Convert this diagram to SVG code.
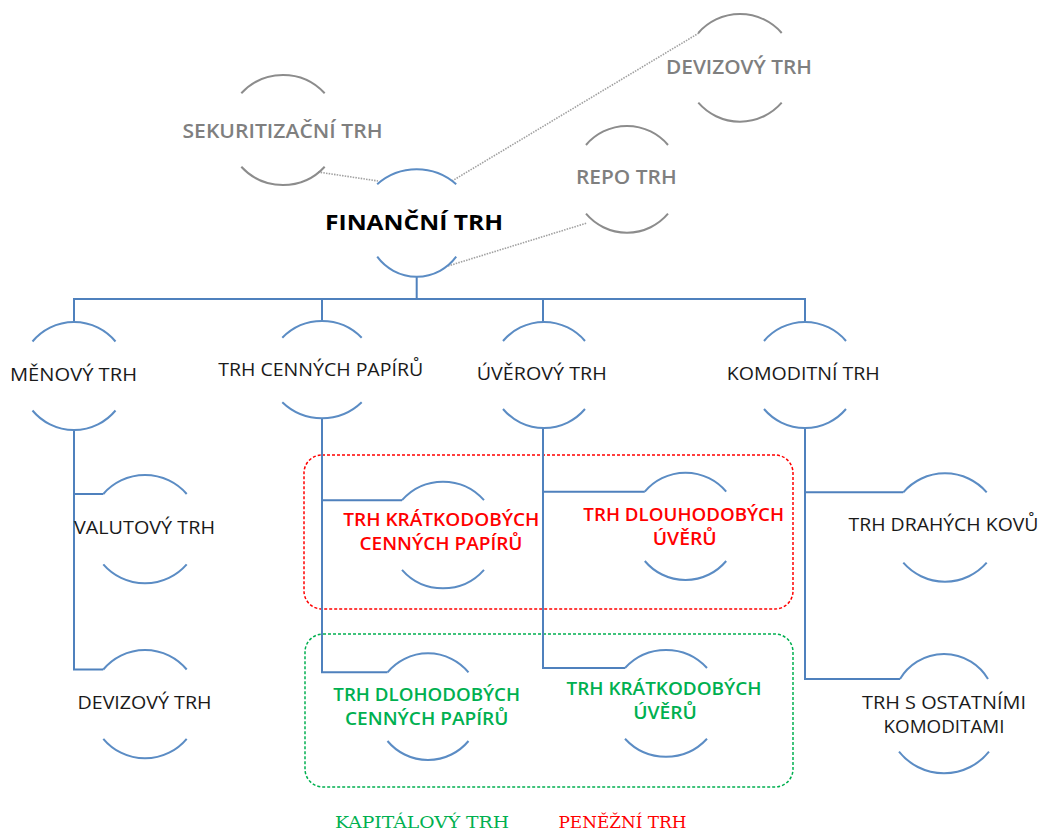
<svg xmlns="http://www.w3.org/2000/svg" width="1042" height="831" viewBox="0 0 1042 831">
<style>
.bg{fill:#ffffff}
.arc{fill:none;stroke:#5b8cc4;stroke-width:2}
.garc{fill:none;stroke:#8c8c8c;stroke-width:2}
.ln{fill:none;stroke:#4f81bd;stroke-width:2}
.dot{fill:none;stroke:#a0a0a0;stroke-width:1.6;stroke-dasharray:1.5 1.2}
.t{font-family:"Open Sans","Noto Sans",sans-serif;font-size:19px;text-anchor:middle;fill:#1a1a1a}
.two{font-size:18px}
.gray{fill:#7f7f7f;font-weight:600}
.red{fill:#ff0000;font-weight:600}
.green{fill:#00b050;font-weight:600}
.main{font-size:22px;font-weight:700;fill:#000000}
.slab{font-family:"DejaVu Serif","Liberation Serif",serif;font-size:17px;text-anchor:middle}
.box{fill:none;stroke-width:1.5;stroke-dasharray:3 2}
</style>
<rect class="bg" x="0" y="0" width="1042" height="831"/>

<g id="groups">
<rect id="penezni-box" class="box" x="304" y="455" width="489" height="154" rx="18" stroke="#ff0000"/>
<rect id="kapitalovy-box" class="box" x="305" y="634" width="488" height="153" rx="18" stroke="#00b050"/>
</g>

<g id="connectors">
<path class="dot" d="M318 172 L378 181"/>
<path class="dot" d="M452 181 L699 33"/>
<path class="dot" d="M448 266 L587 223"/>
<path class="ln" d="M416.7 276.7 V299"/>
<path class="ln" d="M74 322 V299 H805 V322"/>
<path class="ln" d="M322 299 V321"/>
<path class="ln" d="M543 299 V322"/>
<path class="ln" d="M74 430 V669.5 H103.3"/>
<path class="ln" d="M74 494 H103.3"/>
<path class="ln" d="M322 418.3 V672.3 H387.5"/>
<path class="ln" d="M322 500.2 H402"/>
<path class="ln" d="M543 428 V668 H625"/>
<path class="ln" d="M543 491.7 H644.8"/>
<path class="ln" d="M805 428 V679 H900"/>
<path class="ln" d="M805 492.3 H903.3"/>
</g>

<g id="sekuritizacni-trh">
<path class="garc" d="M241.3 93.3 A56.7 56.7 0 0 1 324.7 93.3"/>
<path class="garc" d="M241.3 166.7 A56.7 56.7 0 0 0 324.7 166.7"/>
<text class="t gray" x="282.5" y="137.5" textLength="200" lengthAdjust="spacingAndGlyphs">SEKURITIZAČNÍ TRH</text>
</g>

<g id="devizovy-trh-top">
<path class="garc" d="M698.3 33 A55.3 55.3 0 0 1 781.7 33"/>
<path class="garc" d="M698.3 102.7 A55.3 55.3 0 0 0 781.7 102.7"/>
<text class="t gray" x="739" y="74" textLength="146" lengthAdjust="spacingAndGlyphs">DEVIZOVÝ TRH</text>
</g>

<g id="repo-trh">
<path class="garc" d="M586 145 A53.7 53.7 0 0 1 668 145"/>
<path class="garc" d="M586 213.7 A53.7 53.7 0 0 0 668 213.7"/>
<text class="t gray" x="626.3" y="184.3" textLength="100.7" lengthAdjust="spacingAndGlyphs">REPO TRH</text>
</g>

<g id="financni-trh">
<path class="arc" d="M377.2 184.3 A59.5 59.5 0 0 1 456.2 184.3"/>
<path class="arc" d="M377.2 256.7 A49 49 0 0 0 456.2 256.7"/>
<text class="t main" x="414" y="230" textLength="178" lengthAdjust="spacingAndGlyphs">FINANČNÍ TRH</text>
</g>

<g id="menovy-trh">
<path class="arc" d="M32.5 341.5 A53.9 53.9 0 0 1 115.5 341.5"/>
<path class="arc" d="M32.5 410.5 A53.9 53.9 0 0 0 115.5 410.5"/>
<text class="t" x="73.5" y="380.5" textLength="127" lengthAdjust="spacingAndGlyphs">MĚNOVÝ TRH</text>
</g>

<g id="trh-cennych-papiru">
<path class="arc" d="M282.3 337.7 A55.5 55.5 0 0 1 361.7 337.7"/>
<path class="arc" d="M282.3 402.3 A57.3 57.3 0 0 0 361.7 402.3"/>
<text class="t" x="320.7" y="376" textLength="205" lengthAdjust="spacingAndGlyphs">TRH CENNÝCH PAPÍRŮ</text>
</g>

<g id="uverovy-trh">
<path class="arc" d="M503 341 A53.7 53.7 0 0 1 585 341"/>
<path class="arc" d="M503 409 A53.7 53.7 0 0 0 585 409"/>
<text class="t" x="541.7" y="380" textLength="130" lengthAdjust="spacingAndGlyphs">ÚVĚROVÝ TRH</text>
</g>

<g id="komoditni-trh">
<path class="arc" d="M764 341 A53.7 53.7 0 0 1 846 341"/>
<path class="arc" d="M764 409 A53.7 53.7 0 0 0 846 409"/>
<text class="t" x="803.3" y="380" textLength="153" lengthAdjust="spacingAndGlyphs">KOMODITNÍ TRH</text>
</g>

<g id="valutovy-trh">
<path class="arc" d="M103.3 494 A55.3 55.3 0 0 1 186.7 494"/>
<path class="arc" d="M103.3 564.3 A55.3 55.3 0 0 0 186.7 564.3"/>
<text class="t" x="144.5" y="534.3" textLength="141" lengthAdjust="spacingAndGlyphs">VALUTOVÝ TRH</text>
</g>

<g id="devizovy-trh">
<path class="arc" d="M103.3 669.5 A54.3 54.3 0 0 1 186.7 669.5"/>
<path class="arc" d="M103.3 738.8 A54.3 54.3 0 0 0 186.7 738.8"/>
<text class="t" x="144.5" y="709.3" textLength="134" lengthAdjust="spacingAndGlyphs">DEVIZOVÝ TRH</text>
</g>

<g id="trh-kratkodobych-cp">
<path class="arc" d="M402 500.2 A54.7 54.7 0 0 1 484 500.2"/>
<path class="arc" d="M402 569.8 A54.7 54.7 0 0 0 484 569.8"/>
<text class="t two red" x="441.3" y="526" textLength="196" lengthAdjust="spacingAndGlyphs">TRH KRÁTKODOBÝCH</text>
<text class="t two red" x="441" y="550" textLength="163" lengthAdjust="spacingAndGlyphs">CENNÝCH PAPÍRŮ</text>
</g>

<g id="trh-dlouhodobych-uveru">
<path class="arc" d="M644.8 491.7 A53.1 53.1 0 0 1 726.2 491.7"/>
<path class="arc" d="M644.8 561 A53.1 53.1 0 0 0 726.2 561"/>
<text class="t two red" x="683.7" y="520.7" textLength="200.7" lengthAdjust="spacingAndGlyphs">TRH DLOUHODOBÝCH</text>
<text class="t two red" x="684.7" y="544.7" textLength="64" lengthAdjust="spacingAndGlyphs">ÚVĚRŮ</text>
</g>

<g id="trh-dlohodobych-cp">
<path class="arc" d="M387.5 672.3 A52.7 52.7 0 0 1 468.5 672.3"/>
<path class="arc" d="M387.5 741 A52.7 52.7 0 0 0 468.5 741"/>
<text class="t two green" x="426.7" y="700.7" textLength="186.7" lengthAdjust="spacingAndGlyphs">TRH DLOHODOBÝCH</text>
<text class="t two green" x="426.7" y="724.7" textLength="163.3" lengthAdjust="spacingAndGlyphs">CENNÝCH PAPÍRŮ</text>
</g>

<g id="trh-kratkodobych-uveru">
<path class="arc" d="M625 668 A55.7 55.7 0 0 1 707 668"/>
<path class="arc" d="M625 738.7 A55.7 55.7 0 0 0 707 738.7"/>
<text class="t two green" x="664" y="694.7" textLength="195" lengthAdjust="spacingAndGlyphs">TRH KRÁTKODOBÝCH</text>
<text class="t two green" x="665" y="718.7" textLength="63.7" lengthAdjust="spacingAndGlyphs">ÚVĚRŮ</text>
</g>

<g id="trh-drahych-kovu">
<path class="arc" d="M903.3 492.3 A55.3 55.3 0 0 1 986.7 492.3"/>
<path class="arc" d="M903.3 562.7 A55.3 55.3 0 0 0 986.7 562.7"/>
<text class="t" x="943.5" y="530.7" textLength="190" lengthAdjust="spacingAndGlyphs">TRH DRAHÝCH KOVŮ</text>
</g>

<g id="trh-s-ostatnimi-komoditami">
<path class="arc" d="M900 679 A51.2 51.2 0 0 1 988 679"/>
<path class="arc" d="M899 751.7 A57.7 57.7 0 0 0 989 751.7"/>
<text class="t two" x="944" y="709" textLength="164" lengthAdjust="spacingAndGlyphs">TRH S OSTATNÍMI</text>
<text class="t two" x="944" y="733" textLength="121" lengthAdjust="spacingAndGlyphs">KOMODITAMI</text>
</g>

<g id="legend">
<text class="slab" x="422" y="828" fill="#00b050" textLength="174" lengthAdjust="spacingAndGlyphs">KAPITÁLOVÝ TRH</text>
<text class="slab" x="622.5" y="828" fill="#ff0000" textLength="128" lengthAdjust="spacingAndGlyphs">PENĚŽNÍ TRH</text>
</g>
</svg>
